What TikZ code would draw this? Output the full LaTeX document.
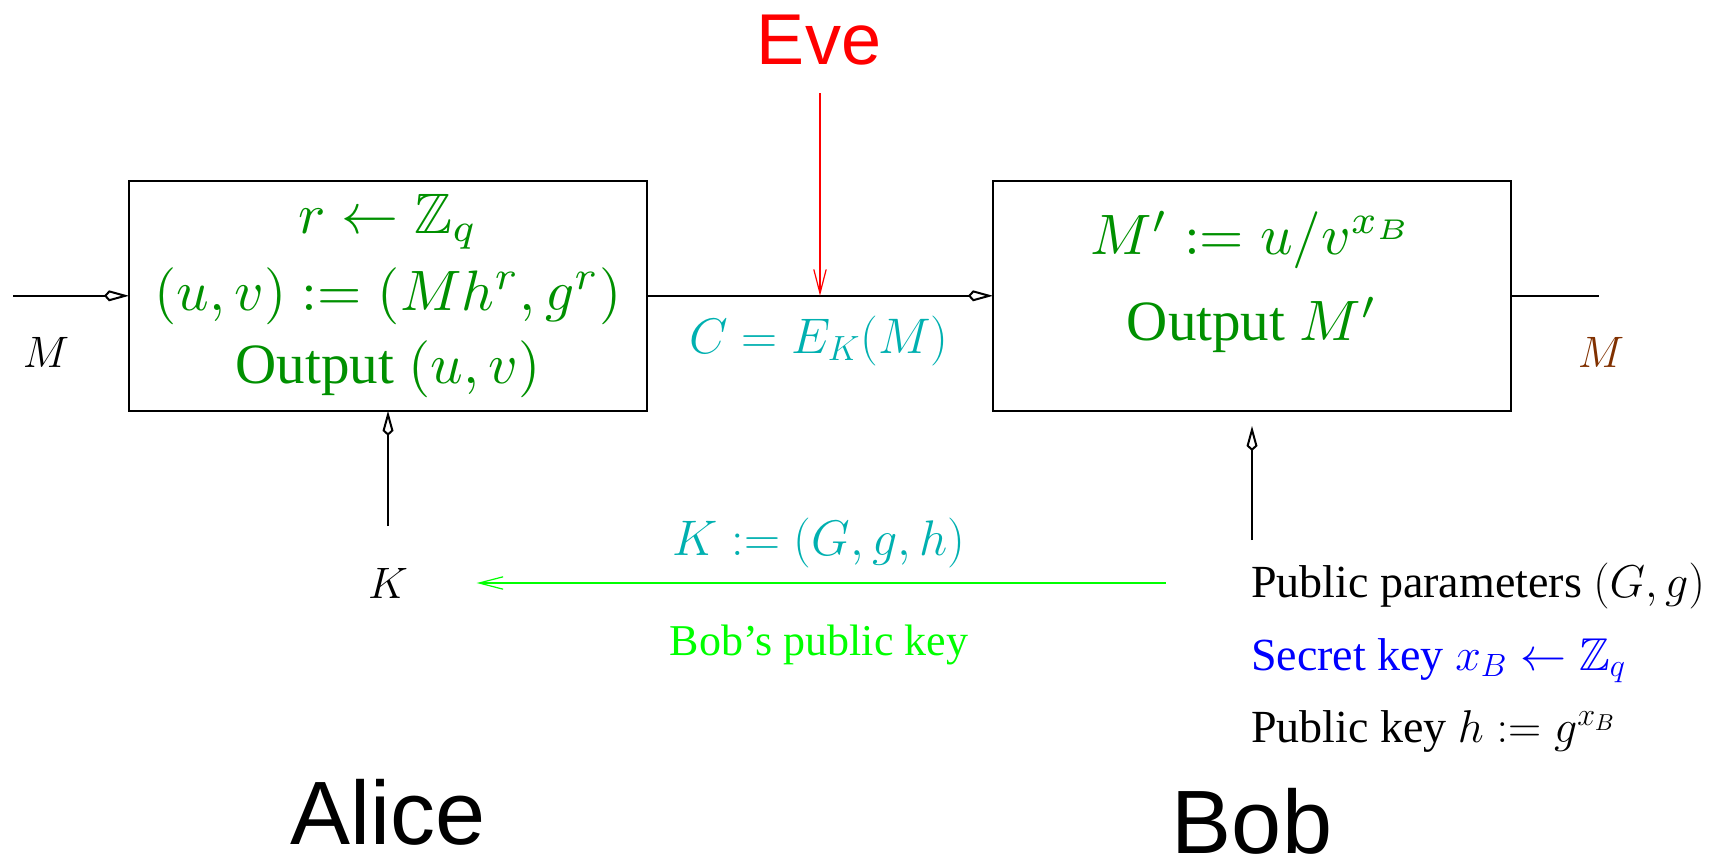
\RequirePackage{fix-cm}
\documentclass[tikz,border=0pt]{standalone}
\usepackage{amssymb}
\usepackage{graphicx}
\usepackage[no-math]{fontspec}
\setmainfont{Liberation Serif}
\newfontfamily\helv{Liberation Sans}
\usetikzlibrary{arrows.meta}
\definecolor{fgreen}{RGB}{0,144,0}
\definecolor{fcyan}{RGB}{0,176,176}
\definecolor{fbrown}{RGB}{128,48,0}
\definecolor{lgreen}{RGB}{0,255,0}
\newcommand{\bigtxt}[1]{\scalebox{2.85}{#1}}
\begin{document}
\begin{tikzpicture}[x=0.5pt,y=-0.5pt,
  every node/.style={inner sep=0pt,outer sep=0pt},
  procbox/.style={draw,line width=1pt,minimum width=259pt,minimum height=115pt},
  boxtxt/.style={anchor=base,text=fgreen,font=\fontsize{10}{12}\selectfont},
  labtxt/.style={anchor=base,font=\fontsize{25}{30}\selectfont},
  sidetxt/.style={anchor=base west,font=\fontsize{23}{28}\selectfont},
  bigname/.style={anchor=base,font=\helv\fontsize{45}{54}\selectfont},
  kitearrow/.style={line width=1pt,-{Kite[open,length=12.5pt,width=5.5pt,inset=2.5pt]}},
  barbarrow/.style={line width=0.6pt,-{Straight Barb[length=12pt,width=6.2pt]}}]
\useasboundingbox (0,0) rectangle (1729,862);

% boxes
\node[procbox] (abox) at (388,295.8) {};
\node[procbox] (bbox) at (1252,295.8) {};

% box texts
\node[boxtxt] (a1) at (388,233) {\bigtxt{$r\leftarrow\mathbb{Z}_q$}};
\node[boxtxt] (a2) at (388,310) {\bigtxt{$(u,v):=(Mh^r,g^r)$}};
\node[boxtxt] (a3) at (388,383) {\bigtxt{Output $(u,v)$}};
\node[boxtxt] (b1) at (1252,254) {\bigtxt{$M':=u/v^{x_B}$}};
\node[boxtxt] (b2) at (1252,340) {\bigtxt{Output $M'$}};

% names
\node[anchor=base,text=red,font=\helv\fontsize{36}{43}\selectfont] (eve) at (819,64) {Eve};
\node[bigname] (alice) at (388,844) {Alice};
\node[bigname] (bob) at (1252,853) {Bob};

% labels
\node[anchor=base,font=\fontsize{22}{26}\selectfont] (min) at (46,367) {$M$};
\node[anchor=base,text=fbrown,font=\fontsize{22}{26}\selectfont] (mout) at (1601,367) {$M$};
\node[anchor=base,font=\fontsize{22}{26}\selectfont] (klab) at (388,598) {$K$};
\node[labtxt,text=fcyan] (ctext) at (819,353) {$C=E_K(M)$};
\node[labtxt,text=fcyan] (ktext) at (819,555) {$K:=(G,g,h)$};
\node[anchor=base,text=lgreen,font=\fontsize{22}{26}\selectfont] (bpk) at (819,655) {Bob's public key};

\node[sidetxt] (p1) at (1251,597) {Public parameters $(G,g)$};
\node[sidetxt,text=blue] (p2) at (1251,670) {Secret key $x_B\leftarrow\mathbb{Z}_q$};
\node[sidetxt] (p3) at (1251,742) {Public key $h:=g^{x_B}$};

% coordinates
\coordinate (mstart) at (13,295.8);
\coordinate (mend) at (1599,295.8);
\coordinate (evestart) at (820,93);
\coordinate (evetip) at (820,295.8);
\coordinate (kstart) at (388,526);
\coordinate (bkstart) at (1252,540);
\coordinate (bktip) at (1252,426);
\coordinate (gstart) at (1165.5,583);
\coordinate (gend) at (476.7,583);

% connectors
\draw[kitearrow] (mstart) -- (abox.west);
\draw[kitearrow] (abox.east) -- (bbox.west);
\draw[line width=1pt] (bbox.east) -- (mend);
\draw[kitearrow] (kstart) -- (abox.south);
\draw[kitearrow] (bkstart) -- (bktip);
\draw[barbarrow,red] (evestart) -- (evetip);
\draw[barbarrow,lgreen] (gstart) -- (gend);
\end{tikzpicture}
\end{document}
